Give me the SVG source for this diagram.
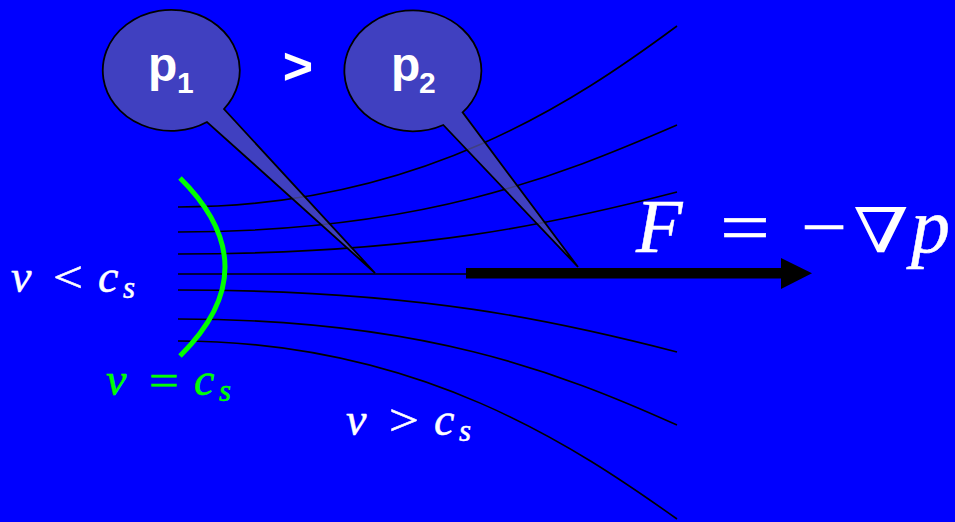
<svg xmlns="http://www.w3.org/2000/svg" width="955" height="522" viewBox="0 0 955 522">
<style>
.bg{fill:#0000ff}
.flow{fill:none;stroke:#000;stroke-width:1.6}
.bubble{fill:#5656ab;fill-opacity:0.75;stroke:#000;stroke-width:1.8;stroke-linejoin:miter}
.lbl{font-family:"Liberation Sans",Arial,sans-serif;font-weight:bold;fill:#fff}
.math{font-family:"Liberation Serif","Times New Roman",serif;fill:#fff;stroke:#fff;stroke-width:0.5}
.it{font-style:italic}
.grn{fill:#00ff00;stroke:#00ff00}
</style>
<rect class="bg" x="0" y="0" width="955" height="522"/>
<g id="connectors">
<path class="flow" d="M178,207 C420,207 577,100 677,26"/>
<path class="flow" d="M178,232 C420,232 557,177 677,125"/>
<path class="flow" d="M178,254 C420,254 557,223 677,192"/>
<path class="flow" d="M178,274 L466,274"/>
<path class="flow" d="M178,290 C420,290 557,321 677,352"/>
<path class="flow" d="M178,319 C420,319 557,371 677,425"/>
<path class="flow" d="M178,341 C420,341 577,448 677,519"/>
<g id="force-arrow">
<rect x="466" y="268" width="317" height="10.5" fill="#000"/>
<polygon points="781,258 812,273.2 781,289" fill="#000"/>
</g>
</g>
<g id="sonic-line">
<path d="M180,178 Q270,267 180,356" fill="none" stroke="#00ff00" stroke-width="5"/>
</g>
<g id="bubble-p1">
<path class="bubble" d="M224,109 A68.5 60.5 0 1 0 207,122 L375,273 Z"/>
<text class="lbl" x="148" y="81" font-size="48">p</text>
<text class="lbl" x="177" y="93" font-size="30">1</text>
</g>
<g id="gt">
<text class="lbl" x="298" y="84" font-size="52" text-anchor="middle">&gt;</text>
</g>
<g id="bubble-p2">
<path class="bubble" d="M462.6,112.4 A68.5 60.5 0 1 0 443.3,125 L578,267 Z"/>
<text class="lbl" x="391" y="81" font-size="48">p</text>
<text class="lbl" x="419" y="93" font-size="30">2</text>
</g>
<g id="force-label">
<text class="math it" x="636" y="252" font-size="76">F</text>
<text class="math" x="720" y="252" font-size="74" textLength="50" lengthAdjust="spacingAndGlyphs">=</text>
<text class="math" x="801" y="252" font-size="74" textLength="46" lengthAdjust="spacingAndGlyphs">−</text>
<text x="853" y="252" font-size="62" font-family="DejaVu Serif,serif" fill="#fff" textLength="56" lengthAdjust="spacingAndGlyphs">∇</text>
<text class="math it" x="911" y="252" font-size="78">p</text>
</g>
<g id="label-subsonic">
<text class="math it" x="11" y="292" font-size="46">v</text>
<text class="math" x="53" y="292" font-size="44" textLength="30" lengthAdjust="spacingAndGlyphs">&lt;</text>
<text class="math it" x="98" y="292" font-size="46">c</text>
<text class="math it" x="123" y="298" font-size="31">s</text>
</g>
<g id="label-sonic">
<text class="math it grn" x="106" y="395" font-size="46">v</text>
<text class="math grn" x="149" y="395" font-size="44" textLength="30" lengthAdjust="spacingAndGlyphs">=</text>
<text class="math it grn" x="194" y="395" font-size="46">c</text>
<text class="math it grn" x="219" y="401" font-size="31">s</text>
</g>
<g id="label-supersonic">
<text class="math it" x="346" y="435" font-size="46">v</text>
<text class="math" x="389" y="435" font-size="44" textLength="30" lengthAdjust="spacingAndGlyphs">&gt;</text>
<text class="math it" x="434" y="435" font-size="46">c</text>
<text class="math it" x="459" y="441" font-size="31">s</text>
</g>
</svg>
